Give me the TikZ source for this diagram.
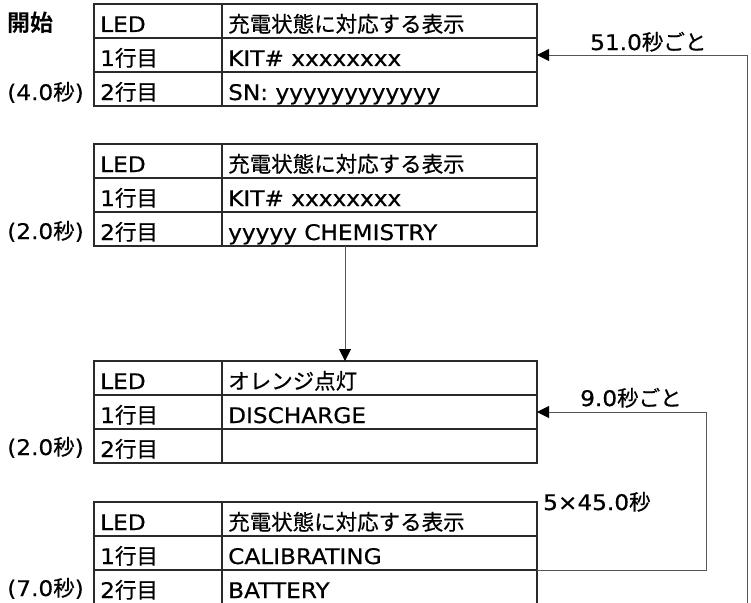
\documentclass[tikz,border=0pt]{standalone}
\usepackage{fontspec}
\setmainfont{DejaVu Sans}[FakeStretch=1.08, FakeBold=0.5]
\newfontfamily\jpfont{Noto Sans CJK JP}[FakeBold=0.5]
\newfontfamily\jpboldfont{Noto Sans CJK JP Bold}
\newcommand\jp[1]{{\jpfont #1}}
\usetikzlibrary{arrows.meta,calc}
\definecolor{tabline}{HTML}{2A2A2A}
\definecolor{connline}{HTML}{555555}
\tikzset{
  tbl/.style={draw=tabline, line width=1.3pt, minimum width=443pt, inner sep=0pt, outer sep=0pt, anchor=north west},
  tline/.style={draw=tabline, line width=1.3pt},
  cell/.style={anchor=base west, inner sep=0pt, font=\fontsize{21.5}{24}\selectfont},
  lbl/.style={anchor=base east, inner sep=0pt, font=\fontsize{21.5}{24}\selectfont},
  rlbl/.style={anchor=base west, inner sep=0pt, font=\fontsize{21.5}{24}\selectfont},
  conn/.style={draw=connline, line width=1pt},
  arr/.style={conn, -{Triangle[length=12pt, width=12pt, black]}},
}
\newcommand\mktable[6]{%
  \node[tbl, minimum height={3*#3 pt}] (#1) at (94,#2) {};
  \draw[tline] (222,#2) -- (222,#2+3*#3);
  \draw[tline] (94,#2+#3) -- (537,#2+#3);
  \draw[tline] (94,#2+2*#3) -- (537,#2+2*#3);
  \node[cell] (#1-l0) at (100,#2+28) {LED};
  \node[cell] (#1-r0) at (228,#2+28) {#4};
  \node[cell] (#1-l1) at (100,#2+#3+28) {1\jp{行目}};
  \node[cell] (#1-r1) at (228,#2+#3+28) {#5};
  \node[cell] (#1-l2) at (100,#2+2*#3+28) {2\jp{行目}};
  \node[cell] (#1-r2) at (228,#2+2*#3+28) {#6};
}
\begin{document}
\begin{tikzpicture}[x=1pt,y=-1pt]
\useasboundingbox (0,0) rectangle (751,602);
\clip (0,0) rectangle (751,602);
\mktable{t1}{4}{34}{\jp{充電状態に対応する表示}}{KIT\# xxxxxxxx}{SN: yyyyyyyyyyyy}
\mktable{t2}{144}{34}{\jp{充電状態に対応する表示}}{KIT\# xxxxxxxx}{yyyyy CHEMISTRY}
\mktable{t3}{361}{34}{\jp{オレンジ点灯}}{DISCHARGE}{}
\mktable{t4}{502}{34}{\jp{充電状態に対応する表示}}{CALIBRATING}{BATTERY}
% left labels
\node[cell, font=\fontsize{23}{26}\selectfont] (start) at (7,32) {\jpboldfont 開始};
\node[lbl] (d1) at (84,100) {(4.0\jp{秒})};
\node[lbl] (d2) at (84,239) {(2.0\jp{秒})};
\node[lbl] (d3) at (84,455) {(2.0\jp{秒})};
\node[lbl] (d4) at (84,596) {(7.0\jp{秒})};
% right labels
\node[rlbl] (p51) at (590,50) {51.0\jp{秒ごと}};
\node[rlbl] (p9) at (580,406) {9.0\jp{秒ごと}};
\node[rlbl] (p5) at (543,510) {5×45.0\jp{秒}};
% connectors
\coordinate (bigstart) at (747,615);
\draw[arr] (bigstart) |- (t1.east);
\coordinate (t2out) at ($(t2.south west)+(251,0)$);
\draw[arr] (t2out) -- (t2out |- t3.north);
\coordinate (t4out) at ($(t4.north east)+(0,68)$);
\draw[arr] (t4out) -- ++(169,0) |- (t3.east);
\end{tikzpicture}
\end{document}
